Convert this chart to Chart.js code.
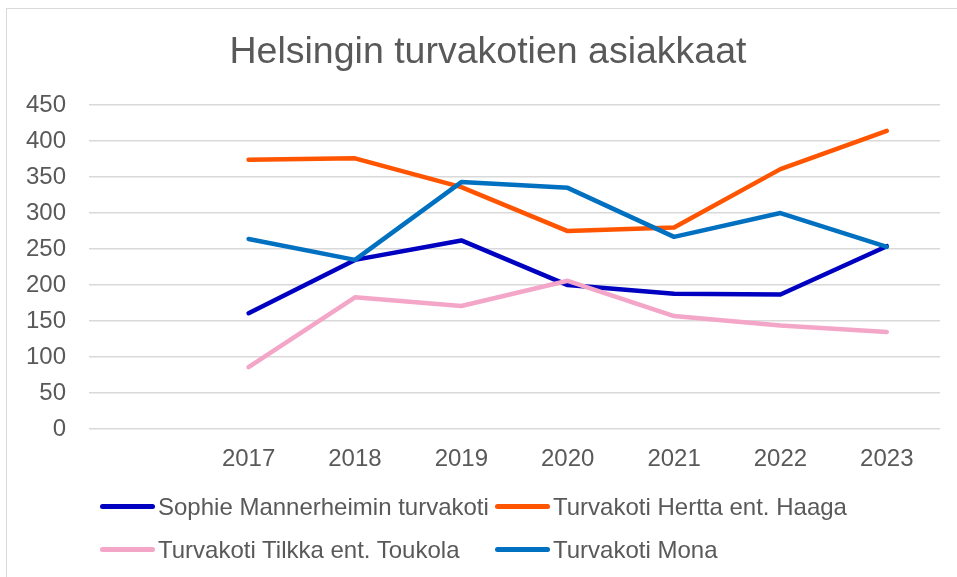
<!DOCTYPE html>
<html>
<head>
<meta charset="utf-8">
<script src="https://cdn.jsdelivr.net/npm/chart.js@4"></script>
<style>
  html, body { margin: 0; padding: 0; background: #fff; overflow: hidden; }
  #wrap { position: relative; width: 957px; height: 577px; }
  #frame { position: absolute; left: 6px; top: 8px; width: 960px; height: 600px;
           border: 1px solid #d9d9d9; box-sizing: border-box; pointer-events: none; }
  #otsikko { position: absolute; left: 188px; width: 600px; top: 28px; height: 44px; line-height: 44px;
             text-align: center; white-space: nowrap; pointer-events: none;
             font-family: "Liberation Sans", Arial, sans-serif; font-size: 37.5px; color: #595959; }
  #legend { position: absolute; left: 0; top: 0; width: 957px; height: 577px; pointer-events: none;
            font-family: "Liberation Sans", Arial, sans-serif; font-size: 24px; color: #595959; }
  .item { position: absolute; height: 30px; line-height: 30px; white-space: nowrap; }
  .item span.sw { position: absolute; left: 0; top: 12px; width: 55px; height: 5px; border-radius: 3px; }
  .item span.tx { position: absolute; left: 58px; top: 0; }
</style>
</head>
<body>
<div id="wrap">
  <canvas id="myChart" width="957" height="577"></canvas>
  <div id="frame"></div>
  <div id="otsikko"></div>
  <div id="legend"></div>
</div>
<script>
// Datos del gráfico
const otsikko = 'Helsingin turvakotien asiakkaat';
const vuodet = ['', '2017', '2018', '2019', '2020', '2021', '2022', '2023'];
const sophie = [null, 161, 235, 262, 200, 188, 187, 254];
const hertta = [null, 374, 376, 336, 275, 280, 361, 414];
const tilkka = [null, 86, 183, 171, 206, 157, 144, 135];
const mona = [null, 264, 235, 343, 335, 267, 300, 253];

const nimet = ['Sophie Mannerheimin turvakoti', 'Turvakoti Hertta ent. Haaga',
               'Turvakoti Tilkka ent. Toukola', 'Turvakoti Mona'];
const varit = ['#0000c0', '#ff5500', '#f4a6c8', '#0070c0'];
const sarjat = [sophie, hertta, tilkka, mona];

const tekstiVari = '#595959';
const fontti = '"Liberation Sans", Arial, sans-serif';

function crearGrafico() {
    const ctx = document.getElementById('myChart').getContext('2d');
    const datasets = sarjat.map((arvot, i) => ({
        label: nimet[i],
        data: arvot,
        borderColor: varit[i],
        backgroundColor: varit[i],
        borderWidth: 4.5,
        borderCapStyle: 'round',
        borderJoinStyle: 'round',
        pointRadius: 0,
        tension: 0,
        fill: false,
        order: sarjat.length - i
    }));

    new Chart(ctx, {
        type: 'line',
        data: { labels: vuodet, datasets: datasets },
        options: {
            responsive: false,
            animation: false,
            layout: { padding: { left: 3, right: 17, top: 105, bottom: 95 } },
            plugins: {
                legend: { display: false },
                tooltip: { enabled: false },
                title: { display: false }
            },
            scales: {
                x: {
                    offset: true,
                    grid: { display: false },
                    border: { display: false },
                    ticks: { color: tekstiVari, font: { family: fontti, size: 24 }, padding: 8, maxRotation: 0 }
                },
                y: {
                    min: 0,
                    max: 450,
                    grid: { color: '#d9d9d9', lineWidth: 1.5, drawTicks: false },
                    border: { display: false },
                    ticks: { stepSize: 50, color: tekstiVari, font: { family: fontti, size: 24 }, padding: 23 }
                }
            }
        }
    });

    document.getElementById('otsikko').textContent = otsikko;

    // Leyenda en HTML (dos columnas)
    const leg = document.getElementById('legend');
    const sijainnit = [[100, 492], [495, 492], [100, 535], [495, 535]];
    nimet.forEach((n, i) => {
        const d = document.createElement('div');
        d.className = 'item';
        d.style.left = sijainnit[i][0] + 'px';
        d.style.top = sijainnit[i][1] + 'px';
        d.innerHTML = '<span class="sw" style="background:' + varit[i] + '"></span><span class="tx"></span>';
        d.querySelector('.tx').textContent = n;
        leg.appendChild(d);
    });
}

crearGrafico();
</script>
</body>
</html>
